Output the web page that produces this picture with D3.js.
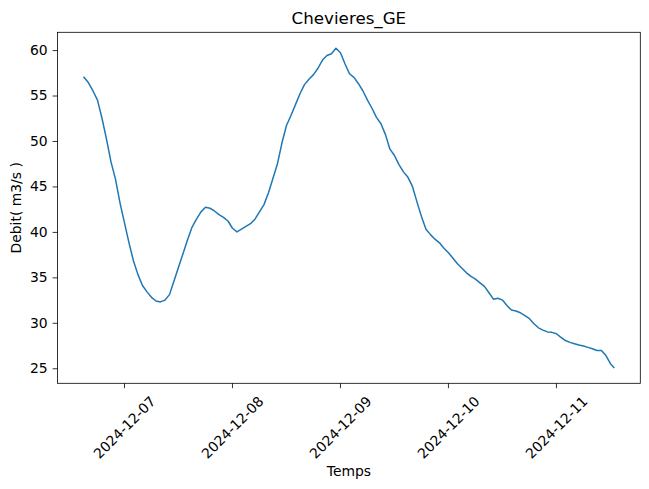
<!DOCTYPE html>
<html>
<head>
<meta charset="utf-8">
<script src="https://cdn.jsdelivr.net/npm/d3@7"></script>
<style>
  html, body { margin: 0; padding: 0; background: #fff; }
  svg { display: block; font-family: "DejaVu Sans", sans-serif; }
</style>
</head>
<body>
<svg id="chart" width="649" height="489"></svg>
<script>
// ---- data ----
const title = "Chevieres_GE";
const xLabel = "Temps";
const yLabel = "Debit( m3/s )";
const startTime = "2024-12-06T15:00:00";   // first sample, hourly step
const endTime = "2024-12-11T12:45:00";     // last sample
const flowValues = [
  57.0, 56.4, 55.5, 54.5, 52.5, 50.2, 47.7, 45.8, 43.2, 41.0,
  38.8, 36.8, 35.3, 34.1, 33.4, 32.8, 32.4, 32.3, 32.5, 33.1,
  34.6, 36.1, 37.6, 39.1, 40.5, 41.4, 42.2, 42.7, 42.6, 42.3,
  41.9, 41.6, 41.2, 40.4, 40.0, 40.3, 40.6, 40.9, 41.4, 42.2,
  43.0, 44.3, 45.9, 47.5, 49.8, 51.7, 52.8, 54.0, 55.2, 56.2,
  56.8, 57.3, 58.0, 58.9, 59.4, 59.6, 60.2, 59.7, 58.5, 57.4,
  57.0, 56.3, 55.5, 54.5, 53.6, 52.6, 51.9, 50.7, 49.1, 48.4,
  47.4, 46.6, 46.0, 45.0, 43.3, 41.7, 40.3, 39.7, 39.2, 38.8,
  38.2, 37.7, 37.1, 36.5, 36.0, 35.5, 35.1, 34.8, 34.4, 34.0,
  33.3, 32.6, 32.7, 32.5, 31.9, 31.4, 31.3, 31.1, 30.8, 30.45,
  29.9, 29.45, 29.2, 29.0, 28.95, 28.8, 28.4, 28.05, 27.85, 27.7,
  27.55, 27.45, 27.3, 27.15, 26.95, 26.95, 26.4, 25.5, 25.1
];
const yTicks = [25, 30, 35, 40, 45, 50, 55, 60];
const xTickLabels = ["2024-12-07", "2024-12-08", "2024-12-09", "2024-12-10", "2024-12-11"];

// ---- build series ----
const parse = d3.isoParse;
const t0 = parse(startTime);
const tEnd = parse(endTime);
const data = flowValues.map((v, i) => ({
  t: i === flowValues.length - 1 ? tEnd : d3.timeHour.offset(t0, i),
  v: v
}));

// ---- layout ----
const L = 57.5, R = 640.3, T = 32.3, B = 383.3;
const svg = d3.select("#chart");

const tExt = d3.extent(data, d => d.t);
const tPad = (tExt[1] - tExt[0]) * 0.05;
const x = d3.scaleTime()
  .domain([new Date(+tExt[0] - tPad), new Date(+tExt[1] + tPad)])
  .range([L, R]);

const vExt = d3.extent(data, d => d.v);
const vPad = (vExt[1] - vExt[0]) * 0.05;
const y = d3.scaleLinear()
  .domain([vExt[0] - vPad, vExt[1] + vPad])
  .range([B, T]);

// line
const line = d3.line().x(d => x(d.t)).y(d => y(d.v));
svg.append("path")
  .datum(data)
  .attr("d", line)
  .attr("fill", "none")
  .attr("stroke", "#1f77b4")
  .attr("stroke-width", 1.5)
  .attr("stroke-linejoin", "round")
  .attr("stroke-linecap", "square");

// frame
svg.append("rect")
  .attr("x", L).attr("y", T)
  .attr("width", R - L).attr("height", B - T)
  .attr("fill", "none").attr("stroke", "#000").attr("stroke-width", 0.8);

const fs = 13.9;

// y axis
const yAxis = d3.axisLeft(y).tickValues(yTicks).tickSize(4.9).tickPadding(4.9);
const gy = svg.append("g").attr("transform", `translate(${L},0)`).call(yAxis);
gy.select(".domain").remove();
gy.selectAll("line").attr("stroke", "#000").attr("stroke-width", 0.8);
gy.selectAll("text").attr("font-size", fs).attr("fill", "#000")
  .attr("font-family", "DejaVu Sans");

// x axis
const xTickDates = xTickLabels.map(s => parse(s + "T00:00:00"));
const gx = svg.append("g").attr("transform", `translate(0,${B})`);
gx.selectAll("line").data(xTickDates).enter().append("line")
  .attr("x1", d => x(d)).attr("x2", d => x(d))
  .attr("y1", 0).attr("y2", 4.9)
  .attr("stroke", "#000").attr("stroke-width", 0.8);

const labelTop = B + 4.9 + 4.9;
xTickDates.forEach((d, i) => {
  const tx = svg.append("text")
    .attr("font-size", fs).attr("fill", "#000")
    .attr("text-anchor", "middle")
    .attr("dominant-baseline", "central")
    .text(xTickLabels[i]);
  const w = tx.node().getComputedTextLength();
  const h = fs * 1.16;
  const half = (w + h) / (2 * Math.SQRT2);
  const cx = x(d), cy = labelTop + half;
  tx.attr("x", cx).attr("y", cy)
    .attr("transform", `rotate(-45,${cx},${cy})`);
});

// title
svg.append("text")
  .attr("x", (L + R) / 2).attr("y", 24)
  .attr("text-anchor", "middle")
  .attr("font-size", 16.7).attr("fill", "#000")
  .text(title);

// axis labels
svg.append("text")
  .attr("x", (L + R) / 2).attr("y", 476)
  .attr("text-anchor", "middle")
  .attr("font-size", fs).attr("fill", "#000")
  .text(xLabel);

svg.append("text")
  .attr("transform", `translate(20.5,${(T + B) / 2}) rotate(-90)`)
  .attr("text-anchor", "middle")
  .attr("font-size", fs).attr("fill", "#000")
  .text(yLabel);
</script>
</body>
</html>
